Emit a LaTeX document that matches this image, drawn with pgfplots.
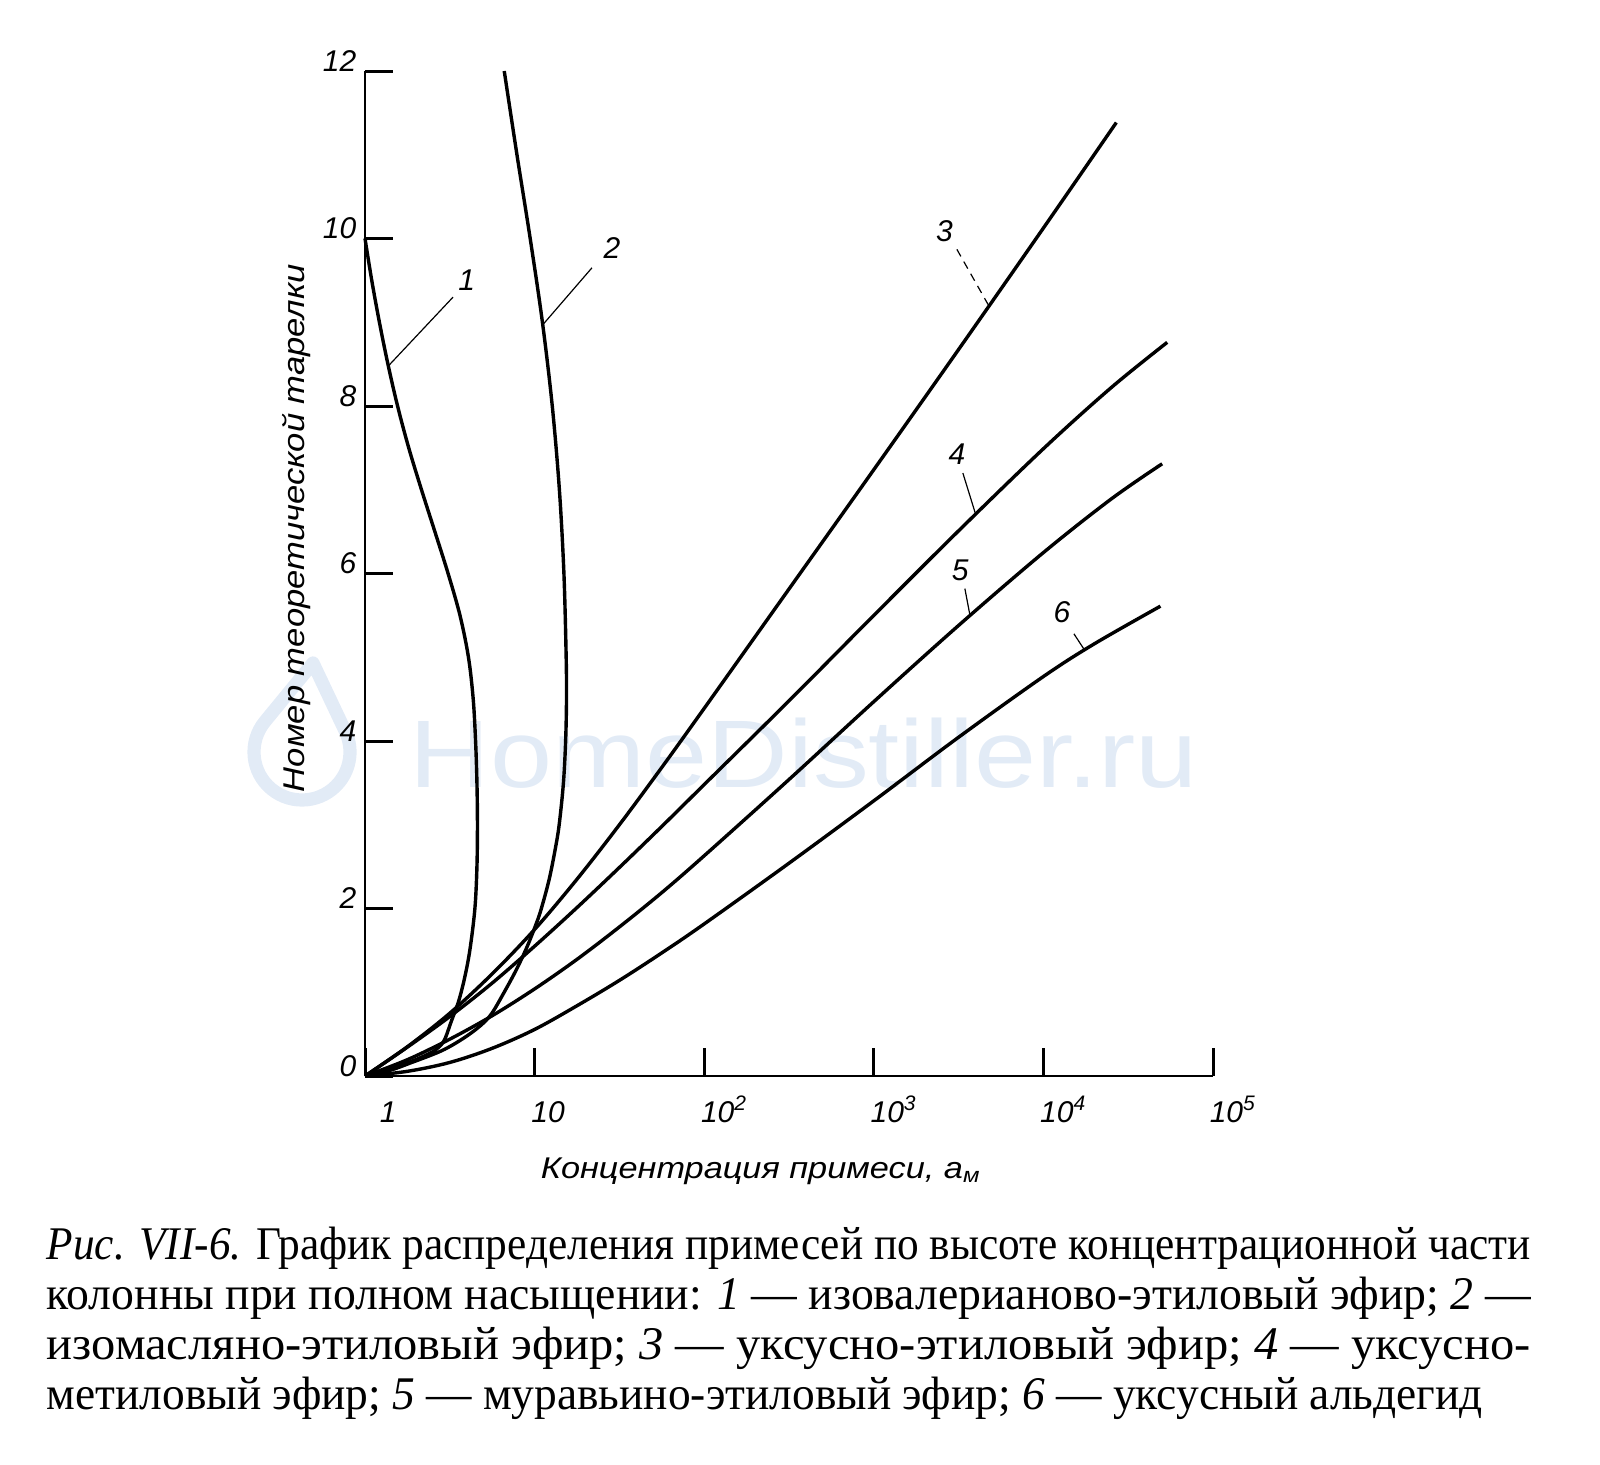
\documentclass[border=0pt]{standalone}
\usepackage{fontspec}
\setmainfont{Liberation Serif}
\setsansfont{Liberation Sans}
\usepackage{graphicx}
\usepackage{pgfplots}
\pgfplotsset{compat=1.18}
\definecolor{wm}{RGB}{226,235,246}
\newcommand{\tickfont}{\sffamily\itshape\fontsize{7.5bp}{8.5bp}\selectfont}
\newcommand{\labfont}{\sffamily\itshape\fontsize{7.5bp}{9bp}\selectfont}
\newcommand{\capfont}{\rmfamily\upshape\fontsize{11.7bp}{12.75bp}\selectfont}
\begin{document}
\begin{tikzpicture}
\useasboundingbox (0,0) rectangle (400bp,-366.25bp);
% faint watermark of the scan
\node[anchor=base west, inner sep=0pt, text=wm] at (102.25bp,-196.75bp)
  {\resizebox{197bp}{\height}{\sffamily\fontsize{24bp}{24bp}\selectfont HomeDistiller.ru}};
\draw[wm, line width=3.3bp, line join=round, line cap=round] (78.25bp,-165.75bp) --
  ([shift={(140.6:12bp)}]75.5bp,-188bp)
  arc[start angle=140.6, end angle=385.4, radius=12bp] -- (78.25bp,-165.75bp);

\begin{axis}[
  at={(91.25bp,-269bp)}, anchor=south west,
  scale only axis, width=212bp, height=251.25bp,
  xmode=log, xmin=1, xmax=100000, ymin=0, ymax=12,
  axis lines=left, axis line style={-, line width=0.55bp, black},
  xtick={1,10,100,1000,10000,100000},
  xticklabels={\hspace*{4.5bp}1,10,10\textsuperscript{2},10\textsuperscript{3},10\textsuperscript{4},10\textsuperscript{5}},
  ytick={0,2,4,6,8,10,12},
  yticklabels={0,2,4,6,8,10,12},
  minor xtick={}, xminorticks=false, yminorticks=false,
  tick align=inside, major tick length=7bp,
  every tick/.style={black, line width=0.75bp},
  xticklabel style={font=\tickfont, anchor=base west, inner sep=0pt, xshift=-1bp, yshift=-11.5bp},
  yticklabel style={font=\tickfont, anchor=base east, inner sep=0pt, xshift=-2bp},
  clip=false,
  every axis plot/.append style={line width=0.85bp, black},
]
% 1 - isovaleric ethyl ester
\addplot[smooth, tension=0.55] coordinates {
(1,10) (1.096,9.5) (1.216,9.0) (1.365,8.5) (1.556,8.0) (1.811,7.5) (2.153,7.0)
(2.582,6.5) (3.090,6.0) (3.631,5.5) (4.074,5.0) (4.345,4.5) (4.487,4.0) (4.571,3.5)
(4.603,3.0) (4.571,2.5) (4.446,2.0) (4.150,1.5) (3.846,1.15) (3.548,0.88) (3.236,0.66)
(2.985,0.46) (2.831,0.38) (2.600,0.31) (2.291,0.25) (1.905,0.18) (1.413,0.09) (1,0)};
% 2 - isobutyric ethyl ester
\addplot[smooth, tension=0.55] coordinates {
(1,0) (1.413,0.07) (1.820,0.15) (2.818,0.3) (3.802,0.45) (4.786,0.6) (5.559,0.74)
(6.531,0.98) (7.762,1.26) (9.016,1.54) (10.23,1.82) (10.96,2.0) (12.16,2.34)
(13.18,2.69) (13.96,3.0) (14.79,3.5) (15.24,4.0) (15.42,4.5) (15.35,5.0) (14.89,6.0)
(14.0,7.0) (12.71,8.0) (11.12,9.0) (9.419,10.0) (7.870,11.0) (6.622,12.0)};
% 3 - ethyl acetate
\addplot[smooth, tension=0.55] coordinates {
(1,0) (1.778,0.35) (3.162,0.75) (5.623,1.22) (10,1.75) (17.78,2.35) (31.62,3.0)
(56.23,3.685) (100,4.39) (316.2,5.815) (1000,7.24) (3162,8.675) (10000,10.125)
(26915,11.385)};
% 4 - methyl acetate
\addplot[smooth, tension=0.55] coordinates {
(1,0) (1.778,0.345) (3.162,0.71) (5.623,1.11) (10,1.55) (17.78,2.011) (31.62,2.49)
(56.23,2.98) (100,3.48) (316.2,4.48) (1000,5.5) (3162,6.51) (10000,7.49) (25119,8.22)
(53703,8.76)};
% 5 - ethyl formate
\addplot[smooth, tension=0.55] coordinates {
(1,0) (1.778,0.195) (3.162,0.44) (5.623,0.72) (10,1.04) (17.78,1.393) (31.62,1.78)
(56.23,2.19) (100,2.63) (316.2,3.54) (1000,4.47) (3162,5.38) (10000,6.25) (25119,6.89)
(50119,7.31)};
% 6 - acetaldehyde
\addplot[smooth, tension=0.55] coordinates {
(1,0) (1.778,0.056) (3.162,0.162) (5.623,0.331) (10,0.556) (17.78,0.839) (31.62,1.142)
(56.23,1.47) (100,1.816) (316.2,2.541) (1000,3.286) (3162,4.045) (10000,4.77)
(19953,5.16) (48978,5.61)};
% leader lines
\addplot[line width=0.3bp] coordinates {(3.304,9.30) (1.39,8.49)};
\addplot[line width=0.3bp] coordinates {(21.78,9.65) (11.17,8.97)};
\addplot[line width=0.3bp, dash pattern=on 2bp off 1.5bp] coordinates {(3090,9.87) (4786,9.19)};
\addplot[line width=0.3bp] coordinates {(3350,7.2) (3981,6.71)};
\addplot[line width=0.3bp] coordinates {(3443,5.82) (3690,5.50)};
\addplot[line width=0.3bp] coordinates {(15136,5.28) (17300,5.10)};
% curve numbers
\node[font=\labfont] at (axis cs:3.98,9.5) {1};
\node[font=\labfont] at (axis cs:28.6,9.89) {2};
\node[font=\labfont] at (axis cs:2606,10.09) {3};
\node[font=\labfont] at (axis cs:3090,7.43) {4};
\node[font=\labfont] at (axis cs:3236,6.04) {5};
\node[font=\labfont] at (axis cs:12882,5.54) {6};
\end{axis}

% axis titles
\node[anchor=base west, inner sep=0pt] at (135bp,-294.5bp)
  {\resizebox{110.25bp}{\height}{\labfont Концентрация примеси, a\textsubscript{м}}};
\node[rotate=90, anchor=center, inner sep=0pt] at (74.1bp,-132bp)
  {\resizebox{132bp}{\height}{\labfont Номер теоретической тарелки}};

% caption
\node[anchor=base west, inner sep=0pt] at (11.5bp,-314.75bp)
  {\resizebox{371bp}{\height}{\capfont \textit{Рис. VII-6.} График распределения примесей по высоте концентрационной части}};
\node[anchor=base west, inner sep=0pt] at (11.5bp,-327.25bp)
  {\resizebox{371bp}{\height}{\capfont колонны при полном насыщении: \textit{1} — изовалерианово-этиловый эфир; \textit{2} —}};
\node[anchor=base west, inner sep=0pt] at (11.5bp,-339.75bp)
  {\resizebox{371bp}{\height}{\capfont изомасляно-этиловый эфир; \textit{3} — уксусно-этиловый эфир; \textit{4} — уксусно-}};
\node[anchor=base west, inner sep=0pt] at (11.5bp,-352.25bp)
  {\resizebox{359bp}{\height}{\capfont метиловый эфир; \textit{5} — муравьино-этиловый эфир; \textit{6} — уксусный альдегид}};
\end{tikzpicture}
\end{document}
